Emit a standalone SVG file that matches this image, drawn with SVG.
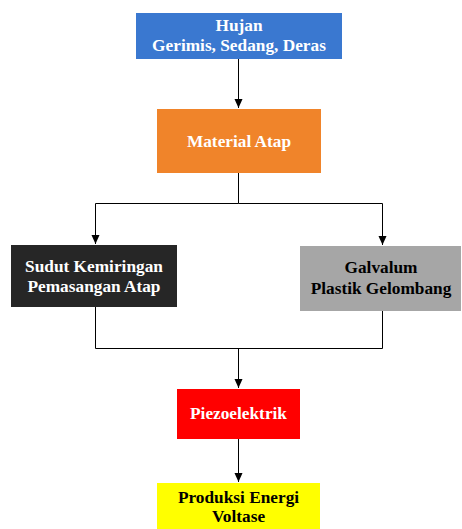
<svg xmlns="http://www.w3.org/2000/svg" width="462" height="529" viewBox="0 0 462 529">
<style>
text{font-family:"Liberation Serif","Times New Roman",serif;font-weight:bold;font-size:17.3px;text-anchor:middle}
.w{fill:#ffffff}.k{fill:#000000}
.c{fill:none;stroke:#000000;stroke-width:1}
</style>
<defs>
<marker id="a" markerWidth="10" markerHeight="10" refX="9" refY="5" orient="auto" markerUnits="userSpaceOnUse">
<path d="M0,1 L9,5 L0,9 Z" fill="#000000"/>
</marker>
</defs>
<rect width="462" height="529" fill="#ffffff"/>
<g id="connectors">
<path class="c" d="M238.5,59 V108" marker-end="url(#a)"/>
<path class="c" d="M238.5,173 V203.5 H95.5 V244" marker-end="url(#a)"/>
<path class="c" d="M238.5,203.5 H382.5 V245" marker-end="url(#a)"/>
<path class="c" d="M95.5,307 V348.5 H382.5 V311"/>
<path class="c" d="M238.5,348.5 V388" marker-end="url(#a)"/>
<path class="c" d="M238.5,439 V482" marker-end="url(#a)"/>
</g>
<g id="hujan">
<rect x="136" y="13" width="206" height="46" fill="#3a78d0"/>
<text class="w" x="239" y="31">Hujan</text>
<text class="w" x="239" y="51">Gerimis, Sedang, Deras</text>
</g>
<g id="material">
<rect x="157" y="109" width="164" height="64" fill="#f0842a"/>
<text class="w" x="239" y="147">Material Atap</text>
</g>
<g id="sudut">
<rect x="11" y="245" width="166" height="62" fill="#262626"/>
<text class="w" x="94" y="272">Sudut Kemiringan</text>
<text class="w" x="94" y="292">Pemasangan Atap</text>
</g>
<g id="galvalum">
<rect x="300" y="246" width="161" height="65" fill="#a6a6a6"/>
<text class="k" x="381" y="273">Galvalum</text>
<text class="k" x="381" y="294">Plastik Gelombang</text>
</g>
<g id="piezo">
<rect x="177" y="389" width="123" height="50" fill="#ff0000"/>
<text class="w" x="238.5" y="419">Piezoelektrik</text>
</g>
<g id="produksi">
<rect x="157" y="483" width="163" height="46" fill="#ffff00"/>
<text class="k" x="238.5" y="503">Produksi Energi</text>
<text class="k" x="238.5" y="522">Voltase</text>
</g>
</svg>
